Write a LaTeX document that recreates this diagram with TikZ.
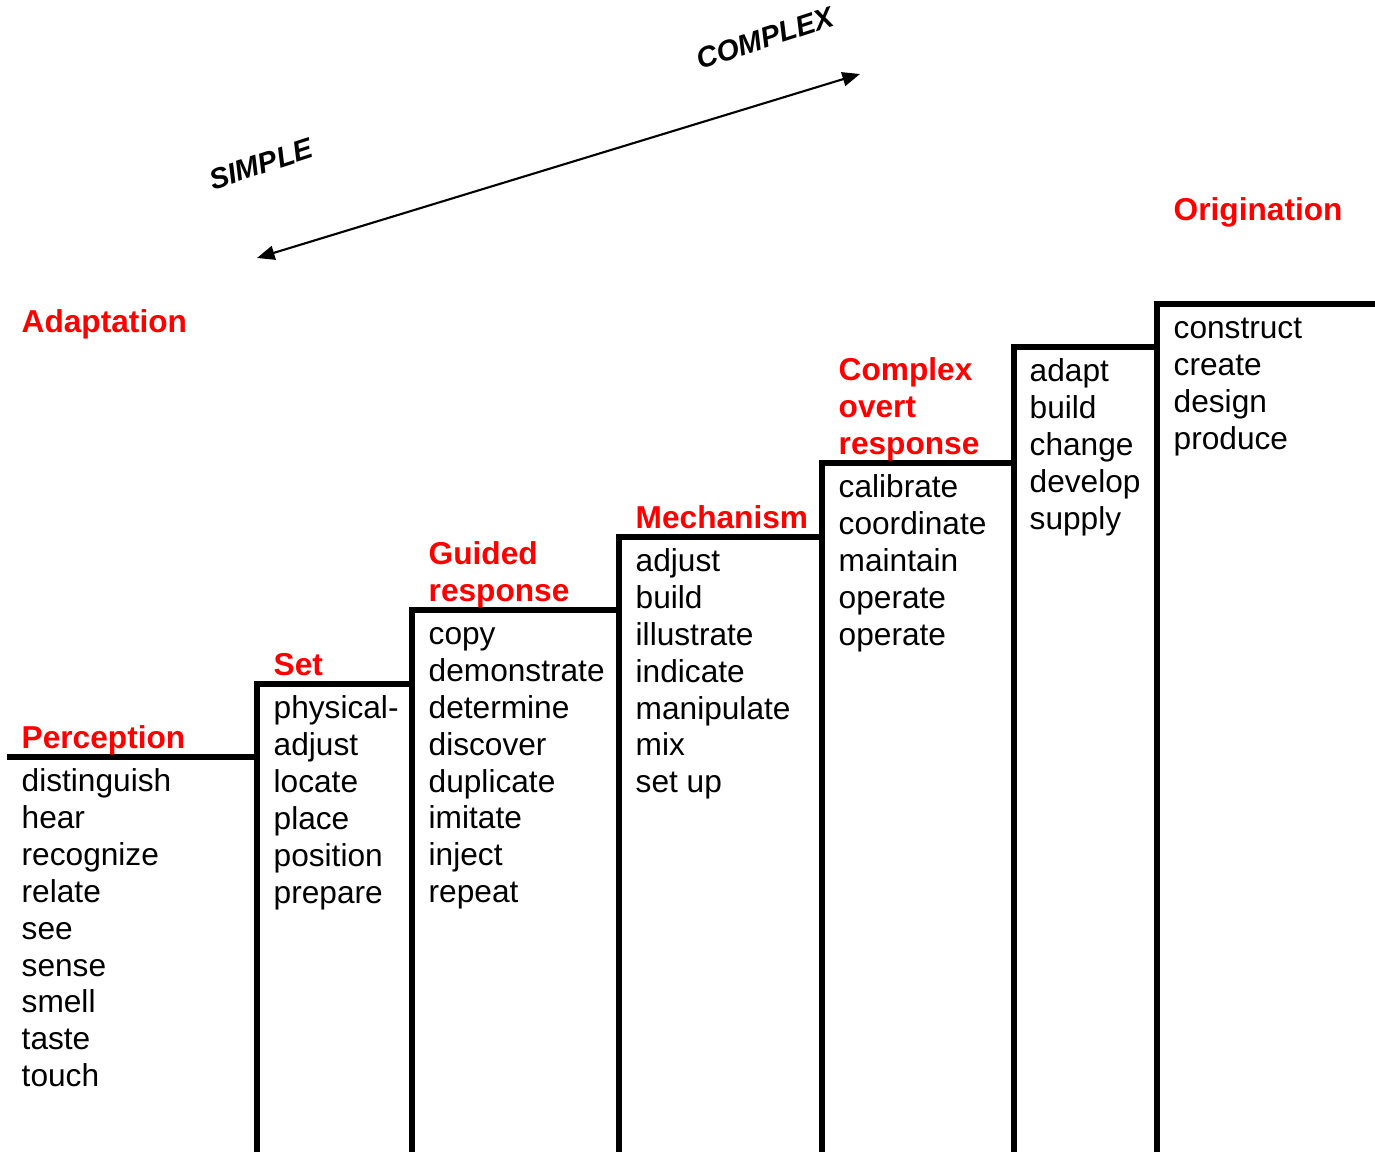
\documentclass[tikz,border=0pt]{standalone}
\usepackage{fontspec}
\setmainfont{Liberation Sans}
\usetikzlibrary{arrows.meta}
\begin{document}
\begin{tikzpicture}
[x=0.01cm,y=-0.01cm,%
  stepDecorate/.style={line width=1.55pt,line join=miter},
  levelDecorate/.style={anchor=base west,inner sep=0pt,text=red,
    font=\fontsize{9pt}{10.5pt}\selectfont\bfseries},
  verbDecorate/.style={anchor=base west,inner sep=0pt,
    font=\fontsize{9pt}{10.5pt}\selectfont},
  endDecorate/.style={inner sep=0pt,rotate=18,
    font=\fontsize{8.2pt}{10pt}\selectfont\bfseries\itshape},
  arrowDecorate/.style={{Triangle[length=5pt,width=4pt]}-{Triangle[length=5pt,width=4pt]},line width=0.6pt}]
\useasboundingbox (0,0) rectangle (1375,1152);
%% corners of the steps
\foreach \cname/\x/\y in {
  k1/7/757, k2/257/684, k3/412/610, k4/619/537,
  k5/822/463, k6/1014/347, k7/1157/304, k8/1375/304}
{
  \coordinate (\cname) at (\x,\y);
}
\coordinate (bottom) at (0,1160);
%% staircase
\draw[stepDecorate] (k1) -| (k2) -| (k3) -| (k4) -| (k5) -| (k6) -| (k7) -- (k8);
\foreach \k in {k2,k3,k4,k5,k6,k7}
{
  \draw[stepDecorate] (\k) -- (\k |- bottom);
}
%% level names
\foreach \lname/\x/\y/\ltext in {
  perception/21/749/Perception, set/273/676/Set,
  guidedA/428/565/Guided, guidedB/428/602/response,
  mechanism/635/529/Mechanism,
  complexA/838/381/Complex, complexB/838/418/overt, complexC/838/455/response,
  adaptation/21/333/Adaptation, origination/1173/221/Origination}
{
  \node[levelDecorate] (\lname) at (\x,\y) {\ltext};
}
%% verbs of each level
\foreach \col/\x/\y/\words in {
  perc/21/792/{distinguish,hear,recognize,relate,see,sense,smell,taste,touch},
  set/273/719/{physical-,adjust,locate,place,position,prepare},
  guid/428/645/{copy,demonstrate,determine,discover,duplicate,imitate,inject,repeat},
  mech/635/572/{adjust,build,illustrate,indicate,manipulate,mix,set up},
  comp/838/498/{calibrate,coordinate,maintain,operate,operate},
  adap/1029/382/{adapt,build,change,develop,supply},
  orig/1173/339/{construct,create,design,produce}}
{
  \foreach \w [count=\i] in \words
  {
    \node[verbDecorate] (\col\i) at (\x,{\y+36.8*(\i-1)}) {\w};
  }
}
%% simple to complex
\coordinate (simpleEnd) at (257,258);
\coordinate (complexEnd) at (860,74);
\draw[arrowDecorate] (simpleEnd) -- (complexEnd);
\node[endDecorate] (simple) at (261,164) {SIMPLE};
\node[endDecorate] (complex) at (765,38) {COMPLEX};
\end{tikzpicture}
\end{document}
